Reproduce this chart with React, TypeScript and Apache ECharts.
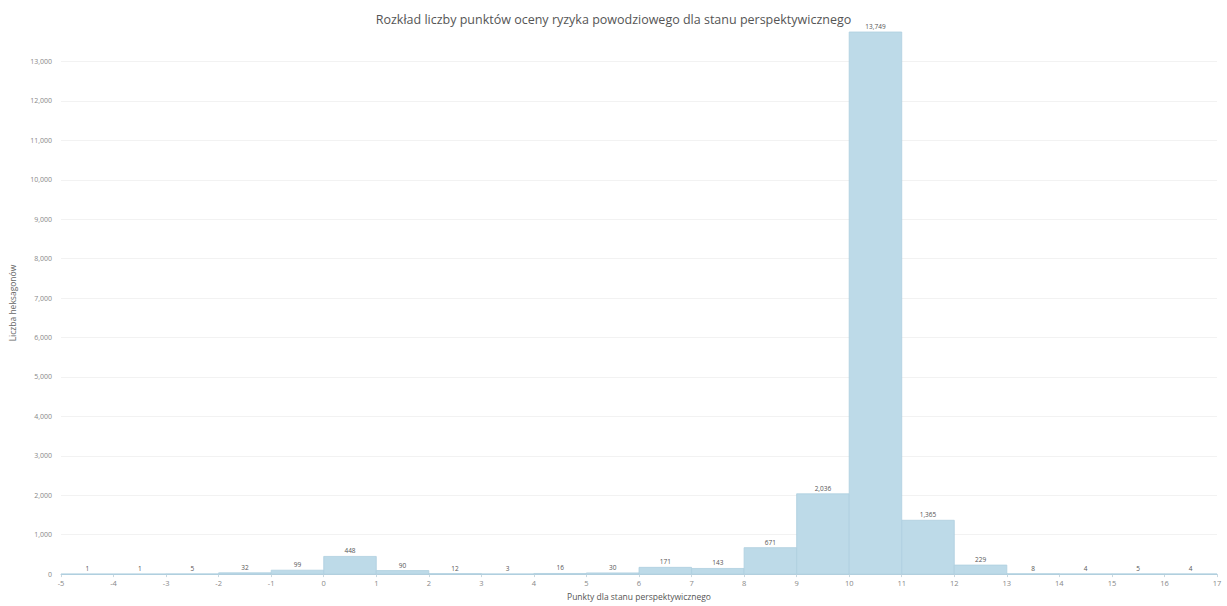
import React, { useEffect, useRef } from "react";
import * as echarts from "echarts";

const titleText = "Rozkład liczby punktów oceny ryzyka powodziowego dla stanu perspektywicznego";
const xAxisName = "Punkty dla stanu perspektywicznego";
const yAxisName = "Liczba heksagonów";
const binStarts = [-5, -4, -3, -2, -1, 0, 1, 2, 3, 4, 5, 6, 7, 8, 9, 10, 11, 12, 13, 14, 15, 16];
const binEnds = [-4, -3, -2, -1, 0, 1, 2, 3, 4, 5, 6, 7, 8, 9, 10, 11, 12, 13, 14, 15, 16, 17];
const counts = [1, 1, 5, 32, 99, 448, 90, 12, 3, 16, 30, 171, 143, 671, 2036, 13749, 1365, 229, 8, 4, 5, 4];

const FONT = "'Open Sans', 'Noto Sans', sans-serif";

export default function App() {
  const ref = useRef<HTMLDivElement>(null);
  useEffect(() => {
    document.body.style.margin = "0";
    const chart = echarts.init(ref.current!, null, { renderer: "svg" });
    const data = binStarts.map((s, i) => [s, binEnds[i], counts[i]]);
    chart.setOption({
      animation: false,
      backgroundColor: "#ffffff",
      textStyle: { fontFamily: FONT },
      title: {
        text: titleText,
        left: "center",
        top: 8,
        textStyle: { fontSize: 12.5, fontWeight: "normal", color: "#555", fontFamily: FONT },
      },
      grid: { left: 61, right: 10, top: 32, bottom: 28, containLabel: false },
      xAxis: {
        type: "value",
        min: -5,
        max: 17,
        interval: 1,
        name: xAxisName,
        nameLocation: "middle",
        nameGap: 17,
        nameTextStyle: { fontSize: 8.5, color: "#555", fontFamily: FONT },
        axisLine: { show: true, lineStyle: { color: "#b5cfdc", width: 1 } },
        axisTick: { show: true, length: 3, lineStyle: { color: "#c8d8e0" } },
        axisLabel: { fontSize: 7.5, color: "#888", margin: 5, fontFamily: FONT },
        splitLine: { show: false },
      },
      yAxis: {
        type: "value",
        min: 0,
        max: Math.max(...counts),
        interval: 1000,
        name: yAxisName,
        nameLocation: "middle",
        nameGap: 44,
        nameRotate: 90,
        nameTextStyle: { fontSize: 8.5, color: "#666", fontFamily: FONT },
        axisLine: { show: false },
        axisTick: { show: false },
        axisLabel: {
          fontSize: 7,
          color: "#888",
          margin: 9,
          showMaxLabel: false,
          fontFamily: FONT,
          formatter: (v: number) => v.toLocaleString("en-US"),
        },
        splitLine: { show: true, showMaxLine: false, lineStyle: { color: "#f2f2f2", width: 1 } },
      },
      series: [
        {
          type: "custom",
          data,
          encode: { x: [0, 1], y: 2 },
          renderItem: (params: any, api: any) => {
            const s = api.value(0);
            const e = api.value(1);
            const v = api.value(2);
            const p0 = api.coord([s, v]);
            const p1 = api.coord([e, 0]);
            const w = p1[0] - p0[0];
            const h = p1[1] - p0[1];
            return {
              type: "group",
              children: [
                {
                  type: "rect",
                  shape: { x: p0[0], y: p0[1], width: w, height: h },
                  style: { fill: "#bddae8", stroke: "#afcfdf", lineWidth: 0.8 },
                },
                {
                  type: "text",
                  x: p0[0] + w / 2,
                  y: p0[1] - 2,
                  style: {
                    text: Number(v).toLocaleString("en-US"),
                    fontSize: 6.5,
                    fill: "#555",
                    fontFamily: FONT,
                    align: "center",
                    verticalAlign: "bottom",
                  },
                },
              ],
            };
          },
        },
      ],
    });
    return () => chart.dispose();
  }, []);
  return <div ref={ref} style={{ width: 1227, height: 606, position: "absolute", left: 0, top: 0 }} />;
}
